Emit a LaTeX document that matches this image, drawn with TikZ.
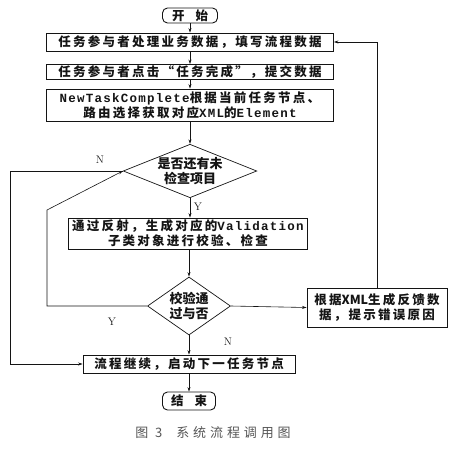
\documentclass[tikz,border=0pt]{standalone}
\usepackage{fontspec}
\usepackage{tikz}
\usetikzlibrary{arrows.meta,positioning,calc,shapes.geometric}
\newfontfamily\cjk{Noto Sans CJK SC}
\newfontfamily\latmono{Liberation Mono}
\definecolor{inkBlack}{RGB}{20, 20, 20}
\definecolor{inkGray}{RGB}{85, 85, 85}
\newcommand{\boxfont}{\cjk\bfseries\fontsize{12.5}{15}\selectfont\addfontfeature{LetterSpace=18}}
\newcommand{\diafont}{\cjk\bfseries\fontsize{13}{15}\selectfont}
\newcommand{\lat}[1]{{\latmono\bfseries\addfontfeature{LetterSpace=10}#1}}
\newcommand{\tight}[1]{{\addfontfeature{LetterSpace=0}#1}}

\begin{document}
\begin{tikzpicture}[x=1pt,y=-1pt]
\tikzset{
  procbox/.style={draw=inkBlack, line width=0.9pt, inner sep=0pt, align=center, font=\boxfont, text=inkBlack},
  termbox/.style={procbox, rounded corners=5pt},
  decision/.style={diamond, draw=inkBlack, line width=0.7pt, inner sep=0pt, align=center, font=\diafont, text=inkBlack},
  flow/.style={draw=inkBlack, line width=0.6pt, -{Stealth[length=4.5pt,width=3pt]}},
  branch/.style={font=\fontsize{11}{13}\selectfont, inner sep=0pt, text=inkBlack},
}
\useasboundingbox (0,0) rectangle (452,450);

% main column
\node[termbox, minimum width=55, minimum height=15] (start) at (190,15.5) {开\hspace{11pt}始};
\node[procbox, minimum width=287, minimum height=18] (collect) at (190,42) {任务参与者处理业务数据，填写流程数据};
\node[procbox, minimum width=287, minimum height=15] (submit) at (190,72) {任务参与者点击“任务完成”，提交数据};
\node[procbox, minimum width=287, minimum height=32] (fetch) at (190,105) {\lat{NewTaskComplete}根据当前任务节点、\\路由选择获取对应\lat{XML}的\lat{Element}};
\node[decision, aspect=2.5, minimum width=133, minimum height=53] (check) at (190,171) {是否还有未\\检查项目};
\node[procbox, minimum width=239, minimum height=31] (reflect) at (188,233.5) {通过反射，生成对应的\lat{Validation}\\子类对象进行校验、检查};
\node[decision, aspect=1.43, minimum width=83, minimum height=58] (pass) at (189,306) {校验通\\过与否};
\node[procbox, minimum width=212, minimum height=18] (next) at (189,364) {流程继续，启动下一任务节点};
\node[termbox, minimum width=53, minimum height=18] (finish) at (189,401) {结\hspace{11pt}束};

% feedback branch
\node[procbox, minimum width=140, minimum height=39] (feedback) at (377,307.5) {根据\tight{XML}生成反馈数\\据，提示错误原因};

\coordinate (outerleft) at (10,0);
\coordinate (innerleft) at (47,210);

\draw[flow] (start) -- (collect);
\draw[flow] (collect) -- (submit);
\draw[flow] (submit) -- (fetch);
\draw[flow] (fetch) -- (check);
\draw[flow] (check.south) -- (check.south |- reflect.north);
\draw[flow] (reflect.south -| pass.north) -- (pass.north);
\draw[flow] (pass) -- (next);
\draw[flow] (next) -- (finish);
\draw[flow] (pass.east) -- (feedback.west);
\draw[flow] (feedback.north) |- (collect.east);
\draw[flow] (pass.west) -| (innerleft) -- (check.west);
\draw[flow] (check.west) -- (check.west -| outerleft) |- (next.west);

% branch labels
\node[branch] (ycheck) at (198,207) {Y};
\node[branch] (ncheck) at (100,160) {N};
\node[branch] (ypass) at (112,322) {Y};
\node[branch] (npass) at (228,342) {N};

\node[font=\cjk\fontsize{13}{14}\selectfont\addfontfeature{LetterSpace=30}, text=inkGray, inner sep=0pt] (caption) at (213,433) {图 3\hspace{14pt}系统流程调用图};
\end{tikzpicture}
\end{document}
